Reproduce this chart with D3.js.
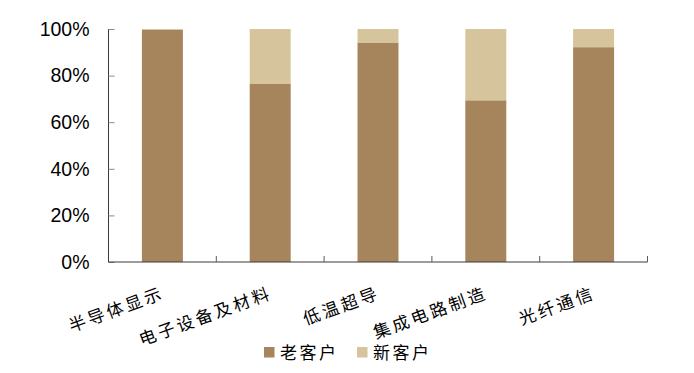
<!DOCTYPE html>
<html>
<head>
<meta charset="utf-8">
<script src="https://cdn.jsdelivr.net/npm/d3@7"></script>
<style>
  html, body { margin: 0; padding: 0; background: #fff; }
  svg { display: block; }
</style>
</head>
<body>
<svg id="chart" width="694" height="373"></svg>
<script>
// Customer mix by industry (share of old vs new customers, %)
const categories = ["半导体显示", "电子设备及材料", "低温超导", "集成电路制造", "光纤通信"];
const oldCustomers = [99.6, 76.4, 94.2, 69.4, 92.2];
const newCustomers = [0.4, 23.6, 5.8, 30.6, 7.8];
const seriesNames = ["老客户", "新客户"];
const seriesColors = ["#a6845c", "#d5c49c"];
const yTicks = [0, 20, 40, 60, 80, 100];

const svg = d3.select("#chart");
const margin = { left: 108.5, right: 46.5, top: 29, bottom: 111 };
const W = 694, H = 373;

const x = d3.scaleBand()
  .domain(categories)
  .range([margin.left, W - margin.right])
  .paddingInner(0.62)
  .paddingOuter(0.31);

const y = d3.scaleLinear()
  .domain([0, 100])
  .range([H - margin.bottom, margin.top]);

const rows = categories.map((c, i) => ({ cat: c, old: oldCustomers[i], new: newCustomers[i] }));
const stacked = d3.stack().keys(["old", "new"])(rows);

// Stacked bars
svg.append("g")
  .selectAll("g")
  .data(stacked)
  .join("g")
  .attr("fill", (d, i) => seriesColors[i])
  .selectAll("rect")
  .data(d => d)
  .join("rect")
  .attr("x", d => x(d.data.cat))
  .attr("width", x.bandwidth())
  .attr("y", d => y(d[1]))
  .attr("height", d => y(d[0]) - y(d[1]));

// Y axis: ticks point into the plot
const yAxis = svg.append("g")
  .attr("transform", `translate(${margin.left},0)`)
  .call(d3.axisLeft(y).tickValues(yTicks).tickFormat(d => d + "%").tickSize(-6).tickPadding(25));
yAxis.select(".domain").attr("stroke", "#3a3a3a").attr("d", `M0,${y(100)}H0V${y(0)}`);
yAxis.selectAll(".tick line").attr("stroke", "#8a8a8a");
yAxis.selectAll(".tick text")
  .attr("fill", "#000")
  .attr("font-family", "Liberation Sans, Arial, sans-serif")
  .attr("font-size", 19.5)
  .attr("text-anchor", "end")
  .attr("x", -19);

// X axis: boundary ticks between categories, pointing up
const xBounds = d3.range(categories.length + 1).map(i => margin.left + i * x.step());
const xAxis = svg.append("g");
xAxis.append("line")
  .attr("x1", margin.left).attr("x2", W - margin.right)
  .attr("y1", y(0)).attr("y2", y(0))
  .attr("stroke", "#3a3a3a");
xAxis.selectAll("line.tk")
  .data(xBounds.slice(1))
  .join("line")
  .attr("class", "tk")
  .attr("x1", d => d).attr("x2", d => d)
  .attr("y1", y(0)).attr("y2", y(0) - 6)
  .attr("stroke", "#5a5a5a");

// Rotated category labels
svg.append("g")
  .selectAll("text")
  .data(categories)
  .join("text")
  .attr("transform", d => `translate(${x(d) + x.bandwidth() / 2 + 3},298) rotate(-20)`)
  .attr("text-anchor", "end")
  .attr("font-family", "Noto Sans CJK SC, sans-serif")
  .attr("font-size", 17)
  .attr("letter-spacing", 3)
  .attr("fill", "#000")
  .text(d => d);

// Legend
const legend = svg.append("g").attr("transform", "translate(264,347)");
const legendX = [0, 93];
seriesNames.forEach((name, i) => {
  const g = legend.append("g").attr("transform", `translate(${legendX[i]},0)`);
  g.append("rect").attr("width", 10.5).attr("height", 10.5).attr("fill", seriesColors[i]);
  g.append("text")
    .attr("x", 16).attr("y", 11.5)
    .attr("font-family", "Noto Sans CJK SC, sans-serif")
    .attr("font-size", 17)
    .attr("letter-spacing", 2.5)
    .attr("fill", "#000")
    .text(name);
});
</script>
</body>
</html>
